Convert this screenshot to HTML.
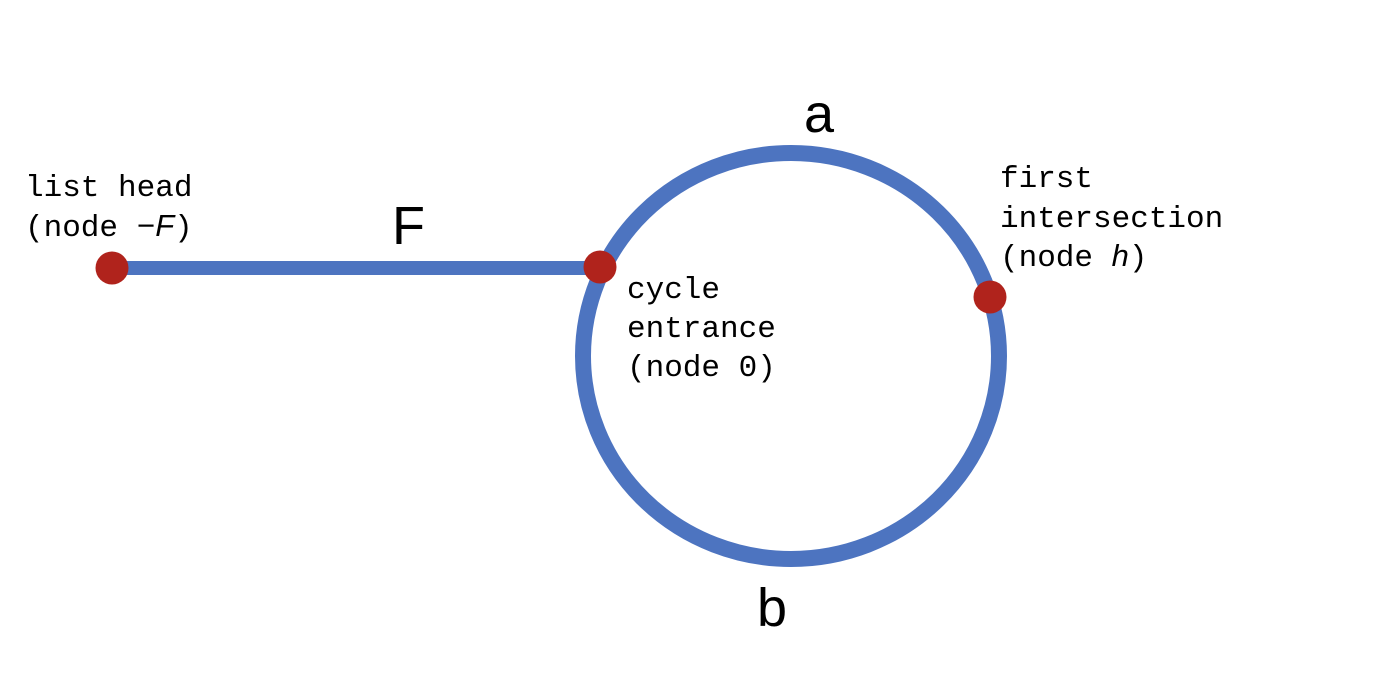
<!DOCTYPE html>
<html><head><style>
body{margin:0;width:1374px;height:682px;background:#fff;overflow:hidden}
svg text{font-family:"Liberation Mono",monospace;font-size:31px;fill:#000}
svg text.big{font-family:"Liberation Sans",sans-serif;font-size:54px}
</style></head><body>
<svg width="1374" height="682" viewBox="0 0 1374 682">
<line x1="112" y1="268" x2="600" y2="268" stroke="#4d74c0" stroke-width="14"/>
<ellipse cx="791" cy="356" rx="208" ry="203" fill="none" stroke="#4d74c0" stroke-width="16"/>
<circle cx="112" cy="268" r="16.5" fill="#b0231c"/>
<circle cx="600" cy="267" r="16.5" fill="#b0231c"/>
<circle cx="990" cy="297" r="16.5" fill="#b0231c"/>
<text x="25" y="196">list head</text>
<text x="25" y="236">(node −<tspan font-style="italic" font-family="Liberation Sans">F</tspan>)</text>
<text x="627" y="298">cycle</text>
<text x="627" y="337">entrance</text>
<text x="627" y="376">(node 0)</text>
<text x="1000" y="187">first</text>
<text x="1000" y="227">intersection</text>
<text x="1000" y="266">(node <tspan font-style="italic" font-family="Liberation Sans">h</tspan>)</text>
<text class="big" x="804" y="132">a</text>
<text class="big" x="392" y="244">F</text>
<text class="big" x="757" y="626">b</text>
</svg>
</body></html>
